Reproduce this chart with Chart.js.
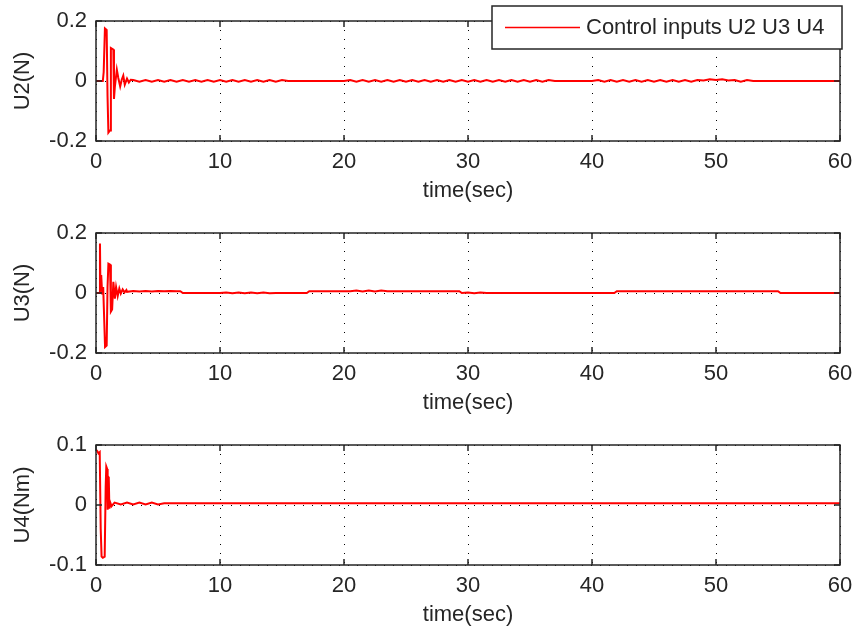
<!DOCTYPE html>
<html>
<head>
<meta charset="utf-8">
<script src="https://cdn.jsdelivr.net/npm/chart.js@4.4.1/dist/chart.umd.min.js"></script>
<style>
  body { margin: 0; background: #fff; }
  .plot { position: absolute; left: 0; width: 854px; }
</style>
</head>
<body>
<div class="plot" style="top:0px;height:211px"><canvas id="Chart_U2" width="854" height="211"></canvas></div>
<div class="plot" style="top:211px;height:211px"><canvas id="Chart_U3" width="854" height="211"></canvas></div>
<div class="plot" style="top:422px;height:212px"><canvas id="Chart_U4" width="854" height="212"></canvas></div>
<script>
// Données
const timeTicks = [0, 10, 20, 30, 40, 50, 60];
const legendLabel = 'Control inputs U2 U3 U4';

const u2Time = [0, 0.55, 0.62, 0.72, 0.86, 0.93, 1.0, 1.13, 1.2, 1.4, 1.45, 1.52, 1.68, 1.8, 1.95, 2.08, 2.2, 2.32, 2.5, 2.65, 2.8,
  3, 3.5, 4, 4.5, 5, 5.5, 6, 6.5, 7, 7.5, 8, 8.5, 9, 9.5, 10, 10.5, 11, 11.5, 12, 12.5, 13, 13.5, 14, 14.5, 15, 15.5,
  20, 20.5, 21, 21.5, 22, 22.5, 23, 23.5, 24, 24.5, 25, 25.5, 26, 26.5, 27, 27.5, 28, 28.5, 29, 29.5, 30, 30.5, 31, 31.5, 32, 32.5, 33, 33.5, 34, 34.5, 35, 35.5, 36, 36.5, 37,
  40, 40.5, 41, 41.5, 42, 42.5, 43, 43.5, 44, 44.5, 45, 45.5, 46, 46.5, 47, 47.5, 48, 48.5, 49, 49.5, 50, 50.5, 51, 51.5, 52, 52.5, 53, 60];
const u2Value = [0, 0, 0.03, 0.175, 0.17, -0.05, -0.172, -0.165, 0.11, 0.105, -0.06, -0.02, 0.038, 0.01, -0.018, 0.005, 0.018, -0.012, 0.008, -0.005, 0.004,
  0.003, -0.002, 0.003, -0.002, 0.003, -0.002, 0.003, -0.002, 0.003, -0.002, 0.003, -0.002, 0.003, -0.002, 0.003, -0.002, 0.003, -0.002, 0.003, -0.002, 0.003, -0.002, 0.003, -0.002, 0.003, 0,
  0, 0.003, -0.002, 0.003, -0.002, 0.003, -0.002, 0.003, -0.002, 0.003, -0.002, 0.003, -0.002, 0.003, -0.002, 0.003, -0.002, 0.003, -0.002, 0.003, -0.002, 0.003, -0.002, 0.003, -0.002, 0.003, -0.002, 0.003, -0.002, 0.003, -0.002, 0.003, -0.002, 0.003, 0,
  0, 0.003, -0.002, 0.003, -0.002, 0.003, -0.002, 0.003, -0.002, 0.003, -0.002, 0.003, -0.002, 0.003, -0.002, 0.003, -0.002, 0.003, 0.002, 0.006, 0.003, 0.006, 0.002, 0.003, -0.002, 0.003, 0, 0];

const u3Time = [0, 0.25, 0.32, 0.36, 0.42, 0.5, 0.58, 0.73, 0.86, 0.93, 1.0, 1.13, 1.2, 1.3, 1.4, 1.52, 1.62, 1.75, 1.88, 2.0, 2.15, 2.3, 2.45,
  2.5, 3, 3.5, 4, 4.5, 5, 5.5, 6, 6.5, 6.8, 7, 10, 10.5, 11, 11.5, 12, 12.5, 13, 13.5, 14, 14.5,
  17, 17.2, 20.5, 21, 21.5, 22, 22.5, 23, 23.5, 29.3, 29.5, 30, 30.5, 31, 31.5, 41.8, 42, 55, 55.2, 60];
const u3Value = [0, 0, 0.165, 0.01, 0.06, -0.005, 0.02, -0.18, -0.175, 0.02, 0.098, 0.095, -0.062, -0.055, 0.037, -0.019, 0.02, -0.01, 0.015, -0.002, 0.012, 0.002, 0.01,
  0.004, 0.007, 0.005, 0.007, 0.005, 0.007, 0.006, 0.007, 0.006, 0.006, 0, 0, 0.002, -0.001, 0.002, -0.001, 0.002, -0.001, 0.002, -0.001, 0,
  0, 0.006, 0.006, 0.008, 0.005, 0.008, 0.005, 0.008, 0.006, 0.006, 0, 0.002, -0.001, 0.002, 0, 0, 0.006, 0.006, 0, 0];

const u4Time = [0, 0.1, 0.2, 0.3, 0.38, 0.45, 0.55, 0.7, 0.78, 0.83, 0.9, 0.94, 0.98, 1.03, 1.08, 1.15, 1.25,
  1.5, 2, 2.5, 3, 3.5, 4, 4.5, 5, 5.5, 60];
const u4Value = [0.092, 0.09, 0.086, 0.088, -0.04, -0.086, -0.088, -0.086, 0.03, 0.064, 0.06, -0.008, 0.047, 0.045, -0.006, 0.004, -0.002,
  0.004, 0.001, 0.004, 0.001, 0.004, 0.001, 0.004, 0.001, 0.003, 0.003];

Chart.defaults.font.family = "'Liberation Sans', Arial, sans-serif";
Chart.defaults.font.size = 22;
Chart.defaults.color = '#262626';

// Cadre de l'axe + graduations vers l'intérieur (style MATLAB)
const boxPlugin = {
  id: 'box',
  afterDraw(chart) {
    const { ctx, chartArea: a, scales } = chart;
    ctx.save();
    ctx.strokeStyle = '#262626';
    ctx.lineWidth = 1.5;
    ctx.strokeRect(a.left, a.top, a.right - a.left, a.bottom - a.top);
    ctx.beginPath();
    scales.x.ticks.forEach(t => {
      const px = scales.x.getPixelForValue(t.value);
      ctx.moveTo(px, a.bottom); ctx.lineTo(px, a.bottom - 6);
      ctx.moveTo(px, a.top); ctx.lineTo(px, a.top + 6);
    });
    scales.y.ticks.forEach(t => {
      const py = scales.y.getPixelForValue(t.value);
      ctx.moveTo(a.left, py); ctx.lineTo(a.left + 6, py);
      ctx.moveTo(a.right, py); ctx.lineTo(a.right - 6, py);
    });
    ctx.stroke();
    ctx.restore();
  }
};

// Légende dans le coin haut droit
const legendPlugin = {
  id: 'boxLegend',
  afterDraw(chart) {
    const ctx = chart.ctx;
    const ds = chart.data.datasets[0];
    ctx.save();
    ctx.fillStyle = '#fff';
    ctx.fillRect(492, 6, 350, 43);
    ctx.strokeStyle = '#262626';
    ctx.lineWidth = 1.5;
    ctx.strokeRect(492, 6, 350, 43);
    ctx.beginPath();
    ctx.strokeStyle = ds.borderColor;
    ctx.lineWidth = 1.5;
    ctx.moveTo(505, 27.5);
    ctx.lineTo(580, 27.5);
    ctx.stroke();
    ctx.fillStyle = '#262626';
    ctx.font = "22px 'Liberation Sans', Arial, sans-serif";
    ctx.textBaseline = 'middle';
    ctx.fillText(ds.label, 586, 28);
    ctx.restore();
  }
};

function makeChart(id, times, values, yMin, yMax, yStep, yTitle, padTop, xHeight, legend) {
  return new Chart(document.getElementById(id).getContext('2d'), {
    type: 'line',
    data: {
      datasets: [{
        label: legendLabel,
        data: times.map((t, i) => ({ x: t, y: values[i] })),
        borderColor: '#ff0000',
        borderWidth: 2,
        pointRadius: 0,
        tension: 0
      }]
    },
    options: {
      responsive: false,
      animation: false,
      layout: { padding: { top: padTop, right: 14, left: 0, bottom: 0 } },
      plugins: { legend: { display: false }, tooltip: { enabled: false } },
      scales: {
        x: {
          type: 'linear',
          min: 0,
          max: 60,
          afterBuildTicks: s => { s.ticks = timeTicks.map(v => ({ value: v })); },
          afterFit: s => { s.height = xHeight; s.paddingLeft = 0; s.paddingRight = 0; },
          grid: { color: '#000', lineWidth: 1, drawTicks: false },
          border: { display: false, dash: [1, 8] },
          ticks: { padding: 8, maxRotation: 0 },
          title: { display: true, text: 'time(sec)', padding: { top: 0, bottom: xHeight - 63 } }
        },
        y: {
          min: yMin,
          max: yMax,
          ticks: { stepSize: yStep, padding: 9 },
          afterFit: s => { s.width = 96; s.paddingTop = 0; s.paddingBottom = 0; },
          grid: { color: '#000', lineWidth: 1, drawTicks: false },
          border: { display: false, dash: [1, 8] },
          title: { display: true, text: yTitle, padding: { top: 10, bottom: 0 } }
        }
      }
    },
    plugins: legend ? [boxPlugin, legendPlugin] : [boxPlugin]
  });
}

const U2Chart = makeChart('Chart_U2', u2Time, u2Value, -0.2, 0.2, 0.2, 'U2(N)', 21, 70, true);
const U3Chart = makeChart('Chart_U3', u3Time, u3Value, -0.2, 0.2, 0.2, 'U3(N)', 22, 69, false);
const U4Chart = makeChart('Chart_U4', u4Time, u4Value, -0.1, 0.1, 0.1, 'U4(Nm)', 23, 69, false);
</script>
</body>
</html>
